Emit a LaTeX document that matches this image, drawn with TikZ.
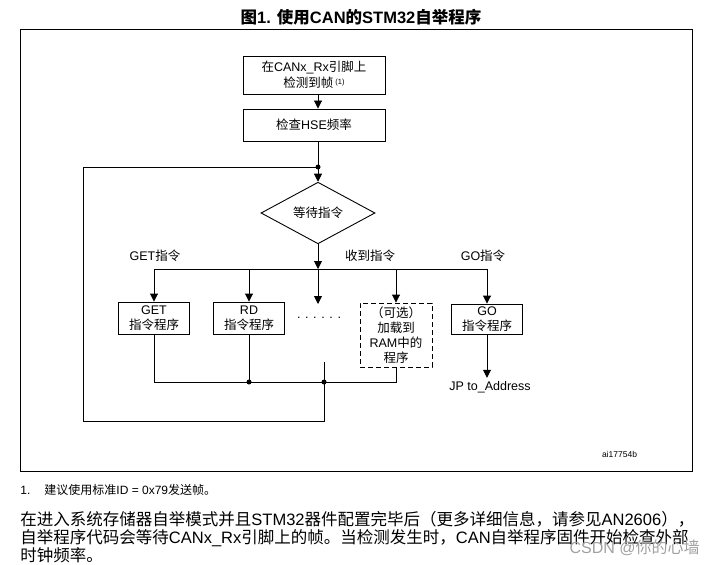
\documentclass[tikz,border=0pt]{standalone}
\usepackage{fontspec}
\setmainfont{Liberation Sans}
\newfontfamily\cjk{Noto Sans CJK SC}
\usetikzlibrary{arrows.meta,positioning,shapes.geometric}
\newcommand{\zh}[1]{{\cjk #1}}
\newcommand{\boxfont}{\fontsize{12.5bp}{15bp}\selectfont}
\newcommand{\parafont}{\fontsize{16.5bp}{19bp}\selectfont}
\definecolor{markGray}{HTML}{A0A0A0}

\begin{document}
\begin{tikzpicture}[x=1bp, y=-1bp, line width=0.9pt,
    every node/.style={font=\boxfont, inner sep=0pt},
    flowbox/.style={draw, rectangle, align=center, minimum height=32bp, minimum width=71bp},
    optbox/.style={flowbox, dash pattern=on 5bp off 3bp},
    waitbox/.style={draw, diamond, minimum width=114bp, minimum height=61bp},
    flow/.style={-{Triangle[length=8bp,width=8bp]}},
    joint/.style={circle, fill, minimum size=5bp}]
  \useasboundingbox (0,0) rectangle (715,565);

  \node[font=\fontsize{16.5bp}{18bp}\selectfont\bfseries] (title) at (361,17) {\zh{图}1. \zh{使用}CAN\zh{的}STM32\zh{自举程序}};
  \draw (20.5,29.7) rectangle (692,471);

  \node[flowbox, minimum width=142bp, minimum height=38bp, font=\fontsize{12.5bp}{16bp}\selectfont] (detect) at (314,75) {\zh{在}CANx\_Rx\zh{引脚上}\\\zh{检测到帧}\,{\fontsize{7.5bp}{7.5bp}\selectfont\raisebox{3bp}{(1)}}};
  \node[flowbox, minimum width=142bp] (hse) at (314,125) {\zh{检查}HSE\zh{频率}};
  \coordinate (top) at (318,167);
  \node[waitbox] (wait) at (318,213) {\zh{等待指令}};
  \coordinate (split) at (318,269);

  \node (getlbl) at (155,256) {GET\zh{指令}};
  \node (rxlbl) at (370,256) {\zh{收到指令}};
  \node (golbl) at (483,256) {GO\zh{指令}};

  \node[flowbox] (get) at (154,318) {GET\\\zh{指令程序}};
  \node[flowbox] (rd) at (249,318) {RD\\\zh{指令程序}};
  \coordinate (more) at (318,304);
  \node (dots) at (319,318) {. . . . . .};
  \node[optbox, minimum width=72bp, minimum height=64bp] (opt) at (396,335) {\zh{（可选）}\\\zh{加载到}\\RAM\zh{中的}\\\zh{程序}};
  \node[flowbox, minimum height=30bp] (go) at (487,319) {GO\\\zh{指令程序}};
  \node[inner sep=3bp] (jp) at (490,387) {JP to\_Address};

  \draw[flow] (detect.south -| wait) -- (hse.north -| wait);
  \draw (hse.south -| wait) -- (top);
  \draw[flow] (top) -- (wait.north);
  \draw[flow] (wait.south) -- (split);
  \draw (get |- split) -- (go |- split);
  \foreach \b in {get, rd, opt, go} \draw[flow] (\b |- split) -- (\b.north);
  \draw[flow] (split) -- (more);
  \draw[flow] (go.south) -- (go.south |- jp.north);

  \coordinate (merge) at (324,382);
  \coordinate (back) at (324,362);
  \coordinate (loop) at (83,421);
  \draw (get.south) -- (get |- merge) -- (opt |- merge) -- (opt.south);
  \draw (rd.south) -- (rd |- merge);
  \draw (back) -- (back |- loop) -- (loop) -- (loop |- top) -- (top);
  \foreach \j in {top, merge} \node[joint] at (\j) {};
  \node[joint] at (rd |- merge) {};

  \node[font=\fontsize{8.5bp}{10bp}\selectfont] (code) at (619.5,454) {ai17754b};

  \node[anchor=west, font=\fontsize{12bp}{14bp}\selectfont] (note) at (20,490) {1.\hspace{14bp}\zh{建议使用标准}ID = 0x79\zh{发送帧。}};
  \node[anchor=west, font=\parafont] (line1) at (20,519) {\zh{在进入系统存储器自举模式并且}STM32\zh{器件配置完毕后（更多详细信息，请参见}AN2606\zh{），}};
  \node[anchor=west, font=\parafont] (line2) at (20,538) {\zh{自举程序代码会等待}CANx\_Rx\zh{引脚上的帧。当检测发生时，}CAN\zh{自举程序固件开始检查外部}};
  \node[anchor=west, font=\parafont] (line3) at (20,555) {\zh{时钟频率。}};
  \node[anchor=east, text=markGray, font=\fontsize{16bp}{18bp}\selectfont] (mark) at (700,548) {CSDN @\zh{你的心墙}};
\end{tikzpicture}
\end{document}
